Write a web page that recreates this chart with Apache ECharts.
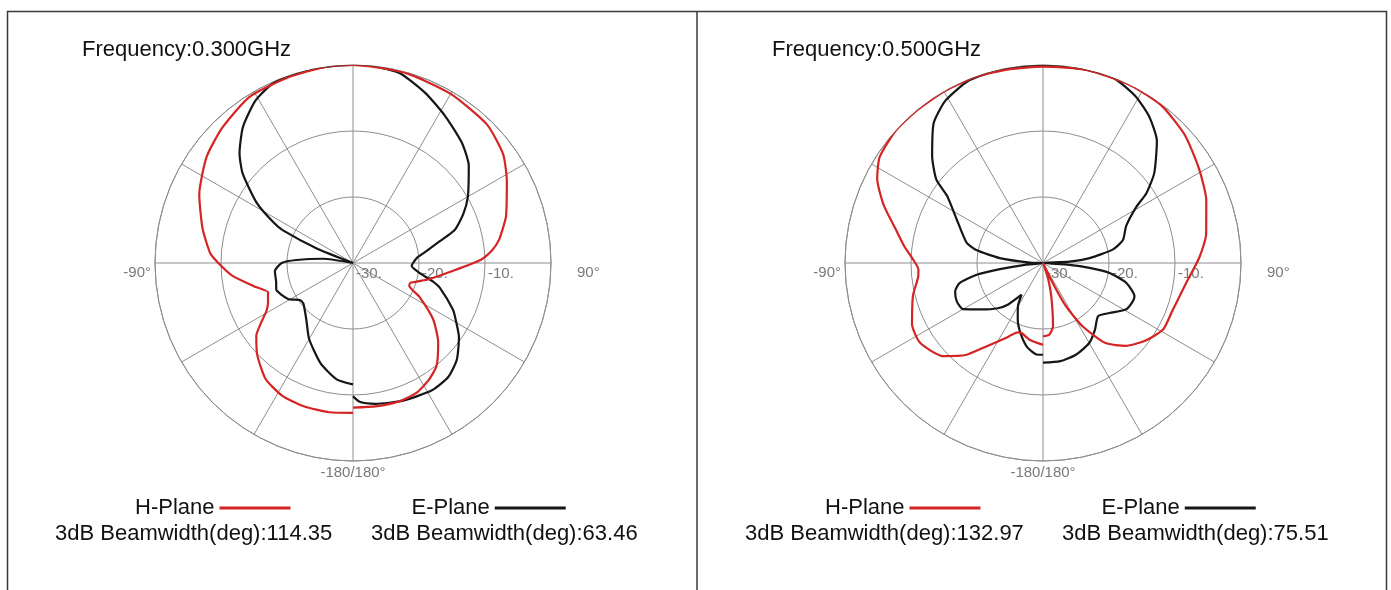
<!DOCTYPE html>
<html>
<head>
<meta charset="utf-8">
<script src="https://cdn.jsdelivr.net/npm/echarts@6/dist/echarts.min.js"></script>
<style>
  html, body { margin: 0; padding: 0; background: #fff; }
  #chart { width: 1391px; height: 590px; }
</style>
</head>
<body>
<div id="chart"></div>
<script>
// antenna angle in degrees (0 = boresight, clockwise), gain in dB

// 0.300 GHz, H-Plane
const h300Angles = [-180, -171, -161, -152, -143, -134, -127, -123, -119, -115, -111, -109, -103, -96, -90, -86, -77, -66, -54, -44, -32, -19, -8, 0, 15, 30, 44, 54, 62, 73, 77, 81, 85, 88.5, 95, 102, 109, 112, 117, 125, 133, 141, 147, 154, 161, 171, 180];
const h300Gain = [-7.3, -7.1, -7.05, -7.2, -8.0, -9.85, -11.65, -13.4, -15.0, -15.8, -16.2, -16.4, -14.5, -11.6, -9.6, -8.3, -6.6, -4.5, -2.6, -1.5, -0.35, -0.2, 0, 0, -0.1, -0.4, -0.8, -1.9, -3.6, -5.75, -6.7, -7.6, -8.9, -10.6, -15.1, -18.2, -20.8, -20.8, -18.7, -15.2, -12.35, -9.9, -8.9, -8.1, -7.9, -8.0, -8.1];

// 0.300 GHz, E-Plane
const e300Angles = [-180, -172, -162, -150, -142, -135, -129, -125, -119, -109, -104, -96, -90, -87, -82, -76, -68, -65, -63, -58, -51, -46, -39, -31, -24, -16, -8, 0, 6, 14, 23, 32, 42, 50, 60, 66, 72, 76, 81, 85, 90, 93, 98, 103, 106, 115, 119, 125, 133, 140, 148, 160, 171, 177, 180];
const e300Gain = [-11.6, -12.2, -14.05, -16.7, -18.6, -19.7, -20.3, -20.2, -18.75, -17.7, -18.0, -18.1, -19.2, -21.4, -25.4, -30, -24, -18.3, -16.5, -12.8, -8.5, -6.1, -3.5, -1.3, -0.2, 0, 0, 0, 0, -0.4, -2.0, -3.7, -5.4, -7.1, -9.9, -11.7, -13.8, -16.5, -18.8, -20.2, -20.9, -21.1, -20.0, -17.6, -16.3, -13.3, -12.2, -10.4, -8.5, -7.5, -7.3, -7.8, -8.4, -8.9, -9.8];

// 0.500 GHz, H-Plane
const h500Angles = [-180, -170, -163, -160, -156, -154, -146, -140, -133, -123, -115, -104, -96, -93, -88, -83, -78, -70, -63, -57, -48, -40, -30, -20, -10, 0, 13, 26, 37, 48, 59, 69, 80, 88, 98, 110, 119, 127, 135, 142, 148, 152, 154, 157, 162, 166, 171, 175, 180];
const h500Gain = [-17.6, -18.2, -18.9, -18.8, -18.0, -17.4, -14.8, -11.8, -9.3, -7.8, -8.1, -9.7, -11.0, -11.1, -10.2, -8.8, -7.4, -4.3, -1.8, -0.5, 0, 0, 0, 0, -0.2, -0.25, 0, 0, -0.15, -1.06, -2.4, -3.5, -4.9, -6.3, -8.1, -9.1, -9.2, -10.5, -12.25, -14.6, -18.7, -22.6, -26.6, -30, -27.5, -24.8, -20.3, -19.1, -18.9];

// 0.500 GHz, E-Plane
const e500Angles = [-180, -176, -169, -162, -156, -150, -146, -140, -135, -127, -120, -114, -108, -103.5, -100, -98, -96, -93, -90, -88, -83.5, -79, -75, -63, -55, -52, -46, -38, -31, -22, -12, 0, 12, 21, 29, 36, 43, 51, 56, 59, 66, 74, 79, 84, 87, 90, 94, 96, 98.5, 103.5, 110, 113, 119, 127, 134, 142, 150, 160, 170, 180];
const e500Gain = [-16.1, -16.1, -17.1, -18.9, -20.6, -22.4, -24.2, -21.8, -20.3, -18.3, -16.0, -15.7, -16.0, -17.0, -19.8, -23.4, -27, -30, -30, -28, -23.4, -19.7, -18, -15.3, -12.25, -9.5, -6.65, -3.1, -1.3, -0.15, 0, 0, 0, 0, -1.1, -2.6, -4.7, -8.3, -11.1, -13.5, -16.2, -17.4, -19.2, -22.9, -26, -30, -26, -22.9, -19.8, -17.0, -15.25, -15.2, -15.55, -17.4, -18.4, -17.2, -16.0, -15.25, -14.9, -14.9];

const radiusTicks = [-30, -20, -10, 0];

const GRID = '#8e8e8e';
const LABEL = '#7a7a7a';
const TEXT = '#111';
const RED = '#d42424';
const BLACK = '#161616';
const FONT = '"Liberation Sans", Arial, sans-serif';

// angle axis runs 90..450 starting at the right, so 0 sits on top and -180/180 at the bottom
const toAxisAngle = (deg) => (deg < 90 ? deg + 360 : deg);
const toPolarData = (angles, gains) => angles.map((a, i) => [gains[i], toAxisAngle(a)]);

function angleAxisFor(index) {
  return {
    polarIndex: index,
    type: 'value',
    min: 90,
    max: 450,
    interval: 30,
    startAngle: 0,
    clockwise: true,
    axisLine: { lineStyle: { color: GRID, width: 1 } },
    axisTick: { show: false },
    splitLine: { lineStyle: { color: GRID, width: 1 } },
    axisLabel: {
      margin: 4,
      color: LABEL,
      fontFamily: FONT,
      fontSize: 15,
      formatter: (v) => {
        const d = Math.round(v);
        if (d === 90) return '{r|90°}';
        if (d === 270) return '{l|-90°}';
        if (d === 180) return '-180/180°';
        return '';
      },
      rich: {
        l: { color: LABEL, fontFamily: FONT, fontSize: 15, padding: [20, 0, 0, 0] },
        r: { color: LABEL, fontFamily: FONT, fontSize: 15, padding: [20, 0, 0, 22] }
      }
    }
  };
}

function radiusAxisFor(index) {
  return {
    polarIndex: index,
    type: 'value',
    min: radiusTicks[0],
    max: radiusTicks[radiusTicks.length - 1],
    interval: 10,
    axisLine: { show: false },
    axisTick: { show: false },
    splitLine: { lineStyle: { color: GRID, width: 1 } },
    axisLabel: {
      margin: 0,
      align: 'left',
      verticalAlign: 'top',
      padding: [3, 0, 0, 3],
      color: LABEL,
      fontFamily: FONT,
      fontSize: 15,
      formatter: (v) => (v === 0 ? '' : v + '.')
    }
  };
}

function patternSeries(name, polarIndex, color, angles, gains) {
  return {
    name: name,
    type: 'line',
    coordinateSystem: 'polar',
    polarIndex: polarIndex,
    symbol: 'none',
    smooth: 0.2,
    color: color,
    lineStyle: { color: color, width: 2.2 },
    data: toPolarData(angles, gains)
  };
}

function textTitle(text, left, top) {
  return {
    text: text,
    left: left,
    top: top,
    padding: 0,
    textStyle: { color: TEXT, fontFamily: FONT, fontSize: 22, fontWeight: 'normal' }
  };
}

function planeLegend(left) {
  return {
    left: left,
    top: 497,
    padding: 0,
    align: 'right',
    icon: 'rect',
    itemWidth: 71,
    itemHeight: 3,
    itemGap: 121,
    textStyle: { color: TEXT, fontFamily: FONT, fontSize: 22 },
    data: ['H-Plane', 'E-Plane']
  };
}

const chart = echarts.init(document.getElementById('chart'));

const option = {
  backgroundColor: '#fff',
  animation: false,
  title: [
    textTitle('Frequency:0.300GHz', 82, 39),
    textTitle('Frequency:0.500GHz', 772, 39),
    textTitle('3dB Beamwidth(deg):114.35', 55, 523),
    textTitle('3dB Beamwidth(deg):63.46', 371, 523),
    textTitle('3dB Beamwidth(deg):132.97', 745, 523),
    textTitle('3dB Beamwidth(deg):75.51', 1062, 523)
  ],
  legend: [planeLegend(135), planeLegend(825)],
  polar: [
    { center: [353, 263], radius: 198 },
    { center: [1043, 263], radius: 198 }
  ],
  angleAxis: [angleAxisFor(0), angleAxisFor(1)],
  radiusAxis: [radiusAxisFor(0), radiusAxisFor(1)],
  series: [
    patternSeries('E-Plane', 0, BLACK, e300Angles, e300Gain),
    patternSeries('H-Plane', 0, RED, h300Angles, h300Gain),
    patternSeries('E-Plane', 1, BLACK, e500Angles, e500Gain),
    patternSeries('H-Plane', 1, RED, h500Angles, h500Gain)
  ],
  graphic: [
    {
      type: 'rect',
      shape: { x: 7.5, y: 11.5, width: 1379, height: 620 },
      style: { fill: 'none', stroke: '#3a3a3a', lineWidth: 1.5 },
      silent: true
    },
    {
      type: 'line',
      shape: { x1: 697, y1: 11, x2: 697, y2: 590 },
      style: { stroke: '#3a3a3a', lineWidth: 1.5 },
      silent: true
    }
  ]
};

chart.setOption(option);
</script>
</body>
</html>
